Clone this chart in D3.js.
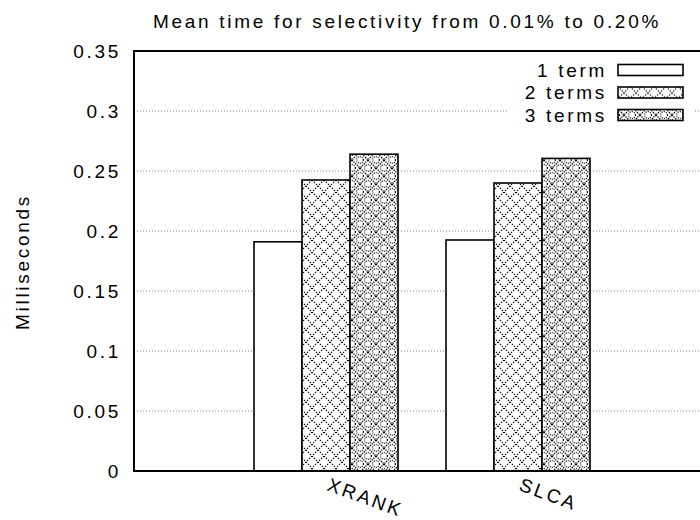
<!DOCTYPE html>
<html>
<head>
<meta charset="utf-8">
<script src="https://cdn.jsdelivr.net/npm/d3@7"></script>
<style>
  body { margin: 0; background: #fff; overflow: hidden; }
  text { font-family: "Liberation Sans", Arial, sans-serif; letter-spacing: 2.7px; }
</style>
</head>
<body>
<div id="chart"></div>
<script>
// Mean time, grouped bars (gnuplot-like look)

const categories = ["XRANK", "SLCA"];
const seriesNames = ["1 term", "2 terms", "3 terms"];
const term1 = [0.191, 0.1925];
const term2 = [0.2425, 0.240];
const term3 = [0.264, 0.2605];
const yTicks = [0, 0.05, 0.1, 0.15, 0.2, 0.25, 0.3, 0.35];

const width = 700,
    height = 520,
    margin = ({ top: 51, right: -10, bottom: 49, left: 134 }),
    fontSize = 19;

const svg = d3.select("#chart")
  .append("svg")
  .attr("width", width)
  .attr("height", height)
  .style("display", "block");

// patterns for the hatched bars
const defs = svg.append("defs");

const p2 = defs.append("pattern")
  .attr("id", "hatch2")
  .attr("patternUnits", "userSpaceOnUse")
  .attr("width", 12).attr("height", 12);
p2.append("rect").attr("width", 12).attr("height", 12).attr("fill", "#fff");
p2.append("path")
  .attr("d", "M0,0L12,12M12,0L0,12")
  .attr("stroke", "#000").attr("stroke-width", 1.1)
  .attr("stroke-dasharray", "1.4,1.4");

const p3 = defs.append("pattern")
  .attr("id", "hatch3")
  .attr("patternUnits", "userSpaceOnUse")
  .attr("width", 16).attr("height", 16);
p3.append("rect").attr("width", 16).attr("height", 16).attr("fill", "#fff");
p3.append("path")
  .attr("d", "M0,0L16,16M16,0L0,16")
  .attr("stroke", "#000").attr("stroke-width", 1.3)
  .attr("stroke-dasharray", "1.3,1");
[[8, 0], [8, 16], [0, 8], [16, 8]].forEach(([cx, cy]) => {
  p3.append("circle")
    .attr("cx", cx).attr("cy", cy).attr("r", 3.4)
    .attr("fill", "none").attr("stroke", "#000").attr("stroke-width", 1.2)
    .attr("stroke-dasharray", "1,1.2");
});

const fills = ["#fff", "url(#hatch2)", "url(#hatch3)"];

// x in "cluster units": cluster i centered at i, axis from -1 to 2
const x = d3.scaleLinear()
  .domain([-1, 2])
  .range([margin.left, width - margin.right]);

const y = d3.scaleLinear()
  .domain([0, 0.35])
  .range([height - margin.bottom, margin.top]);

const barW = 0.25;

// grid
svg.append("g")
  .selectAll("line")
  .data(yTicks.slice(1, -1))
  .join("line")
  .attr("x1", x(-1))
  .attr("x2", x(2))
  .attr("y1", d => y(d))
  .attr("y2", d => y(d))
  .attr("stroke", "#888")
  .attr("stroke-width", 1)
  .attr("stroke-dasharray", "1,2");

// y axis labels
svg.append("g")
  .attr("transform", `translate(${margin.left},0)`)
  .call(d3.axisLeft(y).tickValues(yTicks).tickSize(0).tickPadding(13)
    .tickFormat(d => String(+d.toFixed(2))))
  .call(g => g.select(".domain").remove())
  .call(g => g.selectAll("text")
    .attr("font-size", fontSize)
    .attr("font-family", "Liberation Sans, Arial, sans-serif")
    .attr("fill", "#000"));

// bars
const rows = categories.map((c, i) => ({ cat: c, i, vals: [term1[i], term2[i], term3[i]] }));

const groups = svg.append("g")
  .selectAll("g")
  .data(rows)
  .join("g");

groups.selectAll("rect")
  .data(d => d.vals.map((v, j) => ({ i: d.i, j, v })))
  .join("rect")
  .attr("x", d => x(d.i + (d.j - 1.5) * barW))
  .attr("width", d => x(barW) - x(0))
  .attr("y", d => y(d.v))
  .attr("height", d => y(0) - y(d.v))
  .attr("fill", d => fills[d.j])
  .attr("stroke", "#000")
  .attr("stroke-width", 1.6);

// legend (white box hides the grid)
const legend = svg.append("g");
legend.append("rect")
  .attr("x", 508).attr("y", 58)
  .attr("width", 186).attr("height", 66)
  .attr("fill", "#fff");

const li = legend.selectAll("g")
  .data(seriesNames)
  .join("g")
  .attr("transform", (d, k) => `translate(0,${70 + k * 22.5})`);

li.append("text")
  .attr("x", 607)
  .attr("dy", "0.35em")
  .attr("text-anchor", "end")
  .attr("font-size", fontSize)
  .text(d => d);

li.append("rect")
  .attr("x", 618).attr("y", -5.5)
  .attr("width", 65).attr("height", 11)
  .attr("fill", (d, k) => fills[k])
  .attr("stroke", "#000")
  .attr("stroke-width", 1.6);

// frame
svg.append("path")
  .attr("d", `M${x(2)},${y(0.35)}H${x(-1)}V${y(0)}H${x(2)}`)
  .attr("fill", "none")
  .attr("stroke", "#000")
  .attr("stroke-width", 2);

// x labels, slanted
svg.append("g")
  .selectAll("text")
  .data(categories)
  .join("text")
  .attr("transform", (d, i) => `translate(${x(i)},${y(0) + 19}) rotate(20)`)
  .attr("font-size", fontSize)
  .text(d => d);

// title
svg.append("text")
  .attr("x", 407)
  .attr("y", 28)
  .attr("text-anchor", "middle")
  .attr("font-size", fontSize)
  .text("Mean time for selectivity from 0.01% to 0.20%");

// y title
svg.append("text")
  .attr("transform", `translate(29,${(y(0) + y(0.35)) / 2 + 1}) rotate(-90)`)
  .attr("text-anchor", "middle")
  .attr("font-size", fontSize)
  .text("Milliseconds");
</script>
</body>
</html>
